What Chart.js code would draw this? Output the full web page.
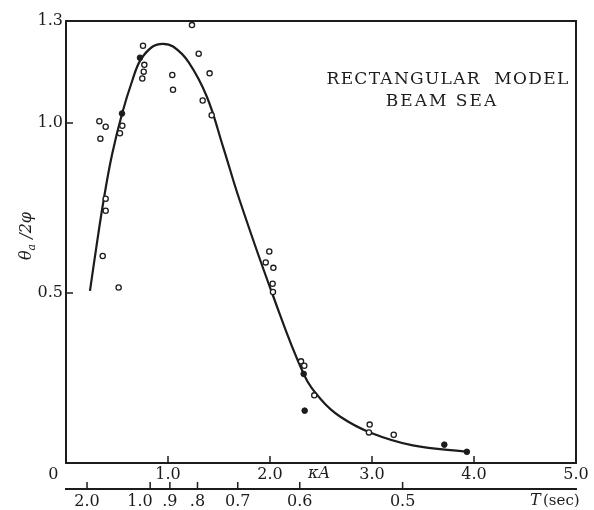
<!DOCTYPE html>
<html>
<head>
<meta charset="utf-8">
<script src="https://cdn.jsdelivr.net/npm/chart.js@4.4.1/dist/chart.umd.min.js"></script>
<style>
  html, body { margin: 0; padding: 0; background: #fff; }
  #wrap { width: 594px; height: 510px; }
</style>
</head>
<body>
<div id="wrap"><canvas id="roll"></canvas></div>
<script>
// Roll response of a rectangular model in beam sea, theta_a / 2phi against kappa*A

// faired curve
const curveX = [0.235, 0.30, 0.37, 0.45, 0.55, 0.65, 0.73, 0.85, 0.95, 1.05, 1.20, 1.38, 1.54,
                1.70, 2.02, 2.33, 2.50, 2.69, 2.98, 3.40, 3.94];
const curveY = [0.506, 0.64, 0.775, 0.905, 1.028, 1.125, 1.185, 1.225, 1.233, 1.225, 1.18, 1.078, 0.93,
                0.775, 0.50, 0.262, 0.187, 0.136, 0.09, 0.052, 0.033];

// measured points, open circles
const openX = [1.235, 0.755, 0.768, 0.762, 0.748, 1.042, 1.049, 1.301, 1.408, 1.34, 1.428,
               0.327, 0.389, 0.337, 0.552, 0.529, 0.389, 0.389, 0.36, 0.516,
               1.993, 1.958, 2.033, 2.026, 2.029, 2.304, 2.336, 2.434, 2.977, 2.97, 3.213];
const openY = [1.288, 1.227, 1.171, 1.151, 1.131, 1.141, 1.098, 1.204, 1.146, 1.066, 1.023,
               1.005, 0.989, 0.954, 0.992, 0.970, 0.777, 0.742, 0.609, 0.516,
               0.622, 0.59, 0.574, 0.527, 0.503, 0.299, 0.286, 0.199, 0.113, 0.09, 0.083];

// measured points, solid dots
const filledX = [0.725, 0.549, 2.33, 2.34, 3.709, 3.93];
const filledY = [1.192, 1.028, 0.262, 0.154, 0.054, 0.033];

// axes
const xTicks = [0, 1, 2, 3, 4, 5];
const xTickLabels = ['0     ', '1.0', '2.0', '3.0', '4.0', '5.0'];
const yTicks = [0.5, 1.0, 1.3];
const periodTicks = [2.0, 1.0, 0.9, 0.8, 0.7, 0.6, 0.5];
const periodLabels = ['2.0', '1.0    ', '.9', '.8', '0.7', '0.6', '0.5'];
const kappaAT2 = 0.825;   // kappa*A * T^2

const ink = '#1c1c1c';
const serif = '"DejaVu Serif", "Liberation Serif", serif';

function pairs(xs, ys) {
    return xs.map((x, i) => ({ x: x, y: ys[i] }));
}

const frame = {
    id: 'frame',
    afterDraw(chart) {
        const { ctx, chartArea: a, scales } = chart;
        const x = scales.x, y = scales.y, t = scales.period;
        ctx.save();
        ctx.strokeStyle = ink;
        ctx.lineWidth = 2;
        ctx.strokeRect(a.left, a.top, a.right - a.left, a.bottom - a.top);

        // tick marks point into the plot
        ctx.lineWidth = 1.5;
        ctx.beginPath();
        x.ticks.forEach(tk => {
            const px = x.getPixelForValue(tk.value);
            ctx.moveTo(px, a.bottom);
            ctx.lineTo(px, a.bottom - 7);
        });
        y.ticks.forEach(tk => {
            const py = y.getPixelForValue(tk.value);
            ctx.moveTo(a.left, py);
            ctx.lineTo(a.left + 7, py);
        });
        t.ticks.forEach(tk => {
            const px = t.getPixelForValue(tk.value);
            ctx.moveTo(px, t.top);
            ctx.lineTo(px, t.top - 7);
        });
        ctx.stroke();

        ctx.fillStyle = ink;
        ctx.textBaseline = 'middle';
        ctx.textAlign = 'center';

        // legend text
        ctx.font = '17px ' + serif;
        ctx.letterSpacing = '1.3px';
        ctx.fillText('RECTANGULAR  MODEL', 448, 80);
        ctx.letterSpacing = '2px';
        ctx.fillText('BEAM SEA', 442, 102);
        ctx.letterSpacing = '0px';

        // axis names
        ctx.font = 'italic 16px ' + serif;
        ctx.fillText('\u03baA', x.getPixelForValue(2.48), x.top + 11);
        ctx.textAlign = 'left';
        ctx.fillText('T', 530, t.top + 12);
        ctx.font = '15px ' + serif;
        ctx.fillText('(sec)', 543, t.top + 12);

        // y title with subscript
        ctx.translate(27, 236);
        ctx.rotate(-Math.PI / 2);
        ctx.font = 'italic 16px ' + serif;
        const w1 = ctx.measureText('\u03b8').width;
        ctx.font = 'italic 11px ' + serif;
        const w2 = ctx.measureText('a').width;
        ctx.font = 'italic 16px ' + serif;
        const w3 = ctx.measureText(' /2\u03c6').width;
        let cx = -(w1 + w2 + w3) / 2;
        ctx.fillText('\u03b8', cx, 0);
        cx += w1;
        ctx.font = 'italic 11px ' + serif;
        ctx.fillText('a', cx, 5);
        cx += w2;
        ctx.font = 'italic 16px ' + serif;
        ctx.fillText(' /2\u03c6', cx, 0);
        ctx.restore();
    }
};

new Chart(document.getElementById('roll'), {
    type: 'scatter',
    data: {
        datasets: [
            {
                label: 'curve',
                data: pairs(curveX, curveY),
                showLine: true,
                borderColor: ink,
                borderWidth: 2.2,
                pointRadius: 0,
                tension: 0.4,
                xAxisID: 'x',
                order: 3
            },
            {
                label: 'open',
                data: pairs(openX, openY),
                pointRadius: 2.6,
                pointBorderWidth: 1.3,
                pointBorderColor: ink,
                pointBackgroundColor: '#fff',
                xAxisID: 'x',
                order: 1
            },
            {
                label: 'filled',
                data: pairs(filledX, filledY),
                pointRadius: 2.8,
                pointBorderWidth: 1,
                pointBorderColor: ink,
                pointBackgroundColor: ink,
                xAxisID: 'x',
                order: 2
            }
        ]
    },
    options: {
        responsive: true,
        maintainAspectRatio: false,
        animation: false,
        layout: { padding: { top: 21, right: 18, left: 0, bottom: 0 } },
        plugins: {
            legend: { display: false },
            tooltip: { enabled: false }
        },
        scales: {
            x: {
                type: 'linear',
                position: 'bottom',
                min: 0,
                max: 5,
                weight: 0,
                afterBuildTicks: s => { s.ticks = xTicks.map(v => ({ value: v })); },
                afterFit: s => { s.height = 26; },
                grid: { display: false, drawTicks: false },
                border: { display: false },
                ticks: {
                    color: ink,
                    font: { family: serif, size: 16 },
                    padding: 2,
                    maxRotation: 0,
                    autoSkip: false,
                    callback: (v, i) => xTickLabels[i]
                }
            },
            period: {
                type: 'linear',
                position: 'bottom',
                min: 0,
                max: 5,
                weight: 1,
                afterBuildTicks: s => { s.ticks = periodTicks.map(T => ({ value: kappaAT2 / (T * T) })); },
                afterFit: s => { s.height = 21; },
                grid: { display: false, drawTicks: false },
                border: { display: true, color: ink, width: 2 },
                ticks: {
                    color: ink,
                    font: { family: serif, size: 16 },
                    padding: 3,
                    maxRotation: 0,
                    autoSkip: false,
                    callback: (v, i) => periodLabels[i]
                }
            },
            y: {
                type: 'linear',
                min: 0,
                max: 1.3,
                afterBuildTicks: s => { s.ticks = yTicks.map(v => ({ value: v })); },
                afterFit: s => { s.width = 66; },
                grid: { display: false, drawTicks: false },
                border: { display: false },
                ticks: {
                    color: ink,
                    font: { family: serif, size: 16 },
                    padding: 3,
                    callback: v => v.toFixed(1)
                }
            }
        }
    },
    plugins: [frame]
});
</script>
</body>
</html>
